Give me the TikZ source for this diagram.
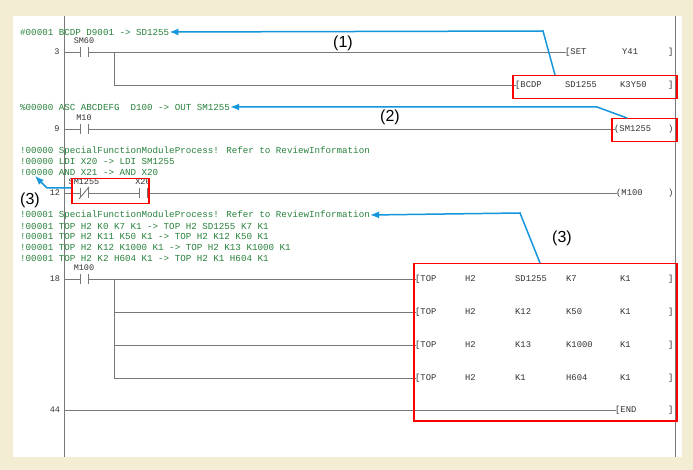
\documentclass[tikz,border=0pt]{standalone}
\usepackage{fontspec}
\setmainfont{Liberation Sans}
\newfontfamily\lmono{Liberation Mono}
\usetikzlibrary{arrows.meta}
\definecolor{bg}{RGB}{243,237,211}
\definecolor{cmt}{RGB}{40,130,60}
\definecolor{wire}{RGB}{120,120,120}
\definecolor{ablue}{RGB}{20,150,220}
\tikzset{
 x=1pt,y=-1pt,
 cmtxt/.style={anchor=west,inner sep=0,font=\lmono\fontsize{9.2}{10}\selectfont,text=cmt},
 lad/.style={anchor=west,inner sep=0,font=\lmono\fontsize{8.8}{9}\selectfont,text=black!80},
 lbl/.style={anchor=center,inner sep=0,font=\lmono\fontsize{8.5}{9}\selectfont,text=black!80},
 wr/.style={draw=wire,line width=0.9pt},
 rbox/.style={draw=red,line width=1.5pt},
 arr/.style={draw=ablue,line width=1.5pt,-{Latex[length=9pt,width=7pt]}},
 big/.style={inner sep=0,font=\fontsize{16}{16}\selectfont},
}
\newcommand{\contact}[3]{% x,y,label
 \draw[wr] (#1-4,#2-5) -- (#1-4,#2+5) (#1+4,#2-5) -- (#1+4,#2+5);
 \node[lbl] at (#1,#2-11) {#3};}
\begin{document}
\begin{tikzpicture}
\fill[bg] (0,0) rectangle (693,470);
\useasboundingbox (0,0) rectangle (693,470);
\fill[white] (13,16) rectangle (682,457);
\draw[wr] (64,16) -- (64,457);
\draw[wr] (675,16) -- (675,457);
% rung 3
\node[cmtxt] (c1) at (20,32) {\#00001 BCDP D9001 -> SD1255};
\node[lbl] at (57,52) {3};
\draw[wr] (64,52) -- (80,52) (88,52) -- (566,52);
\contact{84}{52}{SM60}
\node[lad] at (565,52) {[SET};
\node[lad] at (622,52) {Y41};
\node[lad] at (668,52) {]};
\draw[wr] (114,52) -- (114,85) -- (516,85);
\node[lad] at (515,85) {[BCDP};
\node[lad] at (565,85) {SD1255};
\node[lad] at (620,85) {K3Y50};
\node[lad] at (668,85) {]};
\node[rbox,minimum width=164,minimum height=23,anchor=north west] (b1) at (512,75) {};
% rung 9
\node[cmtxt] (c2) at (20,107) {\%00000 ASC ABCDEFG\ \ D100 -> OUT SM1255};
\node[lbl] at (57,129) {9};
\draw[wr] (64,129) -- (80,129) (88,129) -- (615,129);
\contact{84}{129}{M10}
\node[lad] at (614,129) {(SM1255};
\node[lad] at (668,129) {)};
\node[rbox,minimum width=65,minimum height=23,anchor=north west] (b2) at (611,118) {};
% rung 12
\node[cmtxt] at (20,151) {!00000 SpecialFunctionModuleProcess! Refer to ReviewInformation};
\node[cmtxt] at (20,161) {!00000 LDI X20 -> LDI SM1255};
\node[cmtxt] (c3) at (20,172) {!00000 AND X21 -> AND X20};
\node[lbl] at (55,193) {12};
\draw[wr] (64,193) -- (80,193) (88,193) -- (139,193) (147,193) -- (617,193);
\contact{84}{193}{SM1255}
\draw[wr] (79,199) -- (89,187);
\contact{143}{193}{X20}
\node[lad] at (616,193) {(M100};
\node[lad] at (668,193) {)};
\node[rbox,minimum width=77,minimum height=25,anchor=north west] (b3) at (71,178) {};
% rung 18
\node[cmtxt] (c4) at (20,215) {!00001 SpecialFunctionModuleProcess! Refer to ReviewInformation};
\node[cmtxt] at (20,226) {!00001 TOP H2 K0 K7 K1 -> TOP H2 SD1255 K7 K1};
\node[cmtxt] at (20,236) {!00001 TOP H2 K11 K50 K1 -> TOP H2 K12 K50 K1};
\node[cmtxt] at (20,247) {!00001 TOP H2 K12 K1000 K1 -> TOP H2 K13 K1000 K1};
\node[cmtxt] at (20,258) {!00001 TOP H2 K2 H604 K1 -> TOP H2 K1 H604 K1};
\node[lbl] at (55,279) {18};
\draw[wr] (64,279) -- (80,279) (88,279) -- (416,279);
\contact{84}{279}{M100}
\draw[wr] (114,279) -- (114,378);
\foreach \y/\a/\b/\c in {279/SD1255/K7/K1,312/K12/K50/K1,345/K13/K1000/K1,378/K1/H604/K1}{
 \draw[wr] (114,\y) -- (416,\y);
 \node[lad] at (415,\y) {[TOP};
 \node[lad] at (465,\y) {H2};
 \node[lad] at (515,\y) {\a};
 \node[lad] at (566,\y) {\b};
 \node[lad] at (620,\y) {\c};
 \node[lad] at (668,\y) {]};
}
\node[lbl] at (55,410) {44};
\draw[wr] (64,410) -- (616,410);
\node[lad] at (615,410) {[END};
\node[lad] at (668,410) {]};
\node[rbox,minimum width=263,minimum height=157,anchor=north west] (b4) at (413,263) {};
% arrows and labels
\draw[arr] (555,75) -- (543,31) -- (c1.east);
\node[big] at (343,43) {(1)};
\draw[arr] (627,118) -- (597,107) -- (c2.east);
\node[big] at (390,117) {(2)};
\draw[arr] (71,188) -- (47,188) -- (35,176);
\node[big] at (30,200) {(3)};
\draw[arr] (540,263) -- (520,213) -- (c4.east);
\node[big] at (562,238) {(3)};
\end{tikzpicture}
\end{document}
